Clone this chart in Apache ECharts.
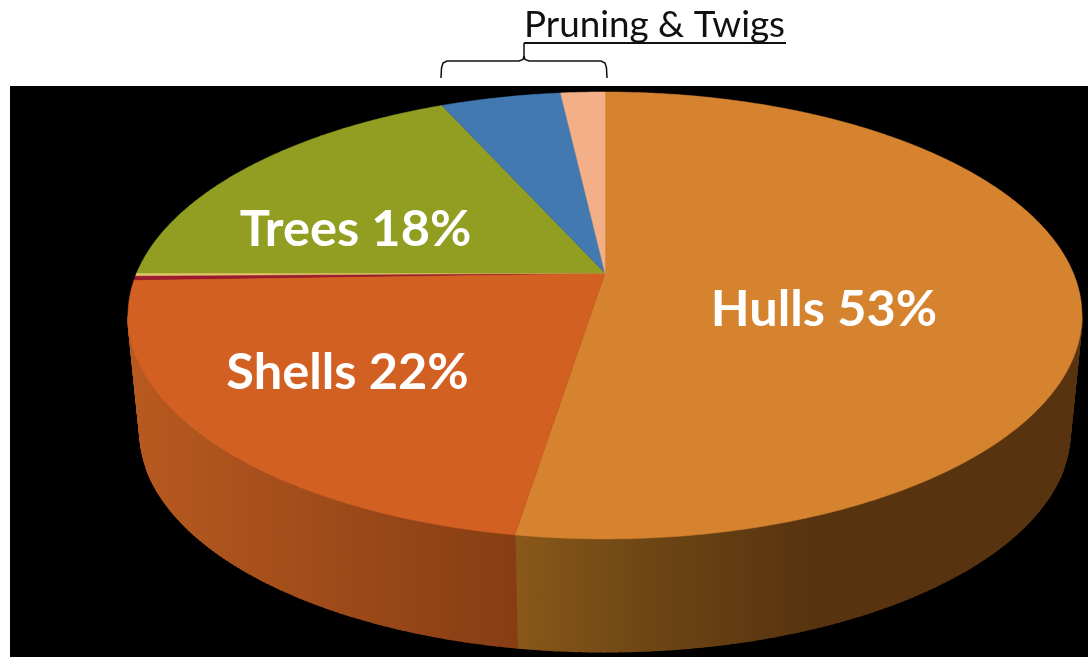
<!DOCTYPE html>
<html><head><meta charset="utf-8">
<style>html,body{margin:0;padding:0;background:#fff}#c{width:1088px;height:657px}</style>
<script src="https://cdn.jsdelivr.net/npm/echarts@6/dist/echarts.min.js"></script>
</head><body><div id="c"></div>
<script>
const categories = ['Hulls','Shells','Other A','Other B','Trees','Pruning','Twigs'];
const shareValues = [52.5,22.0,0.3,0.2,18.3,4.9,1.8];
const topColors = ['#D68330','#D26022','#9C1A30','#E2C46A','#919E22','#4179B0','#F3B088'];
const sideGradients = [
  [[0,'#8A5819'],[0.23,'#6E4615'],[0.53,'#57330F'],[1,'#57330F']],
  [[0,'#B85A20'],[1,'#873D14']],
  [[0,'#6a1420'],[1,'#6a1420']],
  [[0,'#8a7840'],[1,'#8a7840']],
  [[0,'#5f6a16'],[1,'#5f6a16']],
  [[0,'#2a5078'],[1,'#2a5078']],
  [[0,'#a07858'],[1,'#a07858']]
];
const chartLabels = ['Hulls 53%','Shells 22%','Trees 18%'];
const bracketLabel = 'Pruning & Twigs';

const total = shareValues.reduce((a,b)=>a+b,0);
const tilt = 0.19;
const topFace = {cx:605, cy:273, a:468.3, b:215.4};
const baseFace = {cx:605, cy:390, a:456.5, b:212};
function project(f, t){
  const X = Math.sin(t), Y = -Math.cos(t), w = 1 - tilt*Y;
  return [f.cx + f.a*X/w, f.cy + f.b*Y/w];
}
function arc(f, t0, t1, step){
  const n = Math.max(1, Math.ceil(Math.abs(t1-t0)/step)), p = [];
  for(let i=0;i<=n;i++) p.push(project(f, t0+(t1-t0)*i/n));
  return p;
}
function angles(i){
  let s = 0; for(let k=0;k<i;k++) s += shareValues[k];
  return [s/total*2*Math.PI, (s+shareValues[i])/total*2*Math.PI];
}
// The wall is only visible from the silhouette points of the disc round the front.
const wallFrom = Math.acos(-tilt), wallTo = 2*Math.PI - wallFrom;
function sideItem(params, api){
  const i = params.dataIndex, [a0,a1] = angles(i);
  const t0 = Math.max(a0,wallFrom), t1 = Math.min(a1,wallTo);
  if(t1 <= t0) return {type:'group', children:[]};
  const top = arc(topFace,t0,t1,0.012), base = arc(baseFace,t0,t1,0.012);
  const xs = top.concat(base).map(p=>p[0]);
  const fill = new echarts.graphic.LinearGradient(Math.min(...xs),0,Math.max(...xs),0,
    sideGradients[i].map(s=>({offset:s[0],color:s[1]})),true);
  const children = [];
  for(let k=0;k<top.length-1;k++){
    children.push({type:'polygon', shape:{points:[top[k],top[k+1],base[k+1],base[k]]},
      style:{fill, stroke:fill, lineWidth:1.6}});
  }
  return {type:'group', children};
}
function topItem(params, api){
  const i = params.dataIndex, [t0,t1] = angles(i);
  return {type:'polygon', shape:{points:[[topFace.cx,topFace.cy]].concat(arc(topFace,t0,t1,0.008))},
    style:{fill:topColors[i], stroke:topColors[i], lineWidth:0.5}};
}
const data = categories.map((name,i)=>({name, value:shareValues[i]}));
const chart = echarts.init(document.getElementById('c'),null,{renderer:'canvas'});
const labelStyle = {fill:'#fff', font:'bold 50.5px Lato, sans-serif', textAlign:'center', textVerticalAlign:'middle'};
const bracketStroke = {stroke:'#111',lineWidth:1.5,fill:null};
chart.setOption({
  animation:false,
  backgroundColor:'#fff',
  graphic:[
    {type:'rect', z:-10, shape:{x:10,y:86,width:1078,height:571}, style:{fill:'#000'}},
    {type:'text', z:20, x:524, y:7, style:{text:bracketLabel, fill:'#111', font:'36.8px Lato, sans-serif'}},
    {type:'polyline', z:20, shape:{points:[[524,43],[786,43]]}, style:{stroke:'#111',lineWidth:2,fill:null}},
    {type:'polyline', z:20, shape:{points:[[441,78],[441.5,68],[443,63],[447,61],[519,61],[523,59.5],[524,56],[524,43]]}, style:bracketStroke},
    {type:'polyline', z:20, shape:{points:[[524,56],[525,59.5],[529,61],[601,61],[605,63],[606.5,68],[607,78]]}, style:bracketStroke},
    {type:'text', z:20, x:824, y:310, style:{...labelStyle, text:chartLabels[0]}},
    {type:'text', z:20, x:347.5, y:373, style:{...labelStyle, text:chartLabels[1]}},
    {type:'text', z:20, x:355.5, y:230, style:{...labelStyle, text:chartLabels[2]}}
  ],
  series:[
    {type:'custom', coordinateSystem:'none', renderItem:sideItem, data, z:1, silent:true},
    {type:'custom', coordinateSystem:'none', renderItem:topItem, data, z:2, silent:true}
  ]
});
</script></body></html>
